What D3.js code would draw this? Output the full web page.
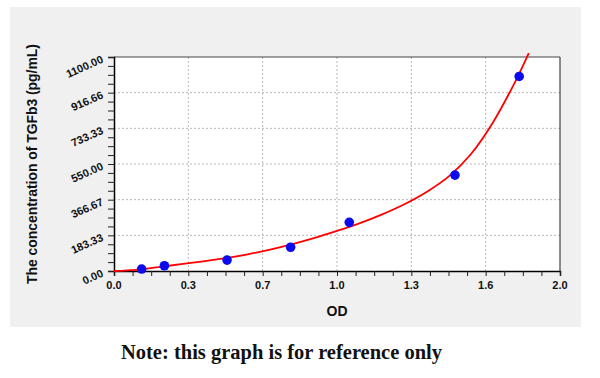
<!DOCTYPE html>
<html>
<head>
<meta charset="utf-8">
<script src="https://cdn.jsdelivr.net/npm/d3@7"></script>
<style>
  html, body { margin: 0; padding: 0; background: #ffffff; }
  svg { display: block; }
</style>
</head>
<body>
<svg id="chart" width="600" height="378"></svg>
<script>
// ---- data ----
const xTickValues = [0, 1/3, 2/3, 1, 4/3, 5/3, 2];
const xTickLabels = ["0.0", "0.3", "0.7", "1.0", "1.3", "1.6", "2.0"];
const yTickValues = [0, 183.33, 366.67, 550, 733.33, 916.66, 1100];
const yTickLabels = ["0.00", "183.33", "366.67", "550.00", "733.33", "916.66", "1100.00"];
// standard points (OD, concentration)
const pointOD   = [0.124, 0.226, 0.507, 0.792, 1.055, 1.529, 1.817];
const pointConc = [10, 27, 56, 122, 250, 493, 1000];
// fitted curve
const curveOD   = [0, 0.1, 0.2, 0.3, 0.4, 0.5, 0.6, 0.7, 0.8, 0.9, 1.0, 1.1, 1.2, 1.3, 1.4, 1.5, 1.6, 1.7, 1.8, 1.86];
const curveConc = [0, 6, 20, 35, 50, 66, 86, 110, 138, 170, 206, 245, 290, 342, 405, 485, 600, 765, 975, 1120];

// ---- layout ----
const svg = d3.select("#chart");
const L = 114, R = 560, T = 57, B = 271;

svg.append("rect").attr("x", 10).attr("y", 7).attr("width", 571).attr("height", 320)
  .attr("fill", "#f0f0f0");

svg.append("rect").attr("x", L).attr("y", T).attr("width", R - L).attr("height", B - T)
  .attr("fill", "#ffffff");

const x = d3.scaleLinear().domain([0, 2]).range([L, R]);
const y = d3.scaleLinear().domain([0, 1100]).range([B, T]);

// grid
const grid = svg.append("g");
grid.selectAll("line.vg").data(xTickValues.slice(1, -1)).enter().append("line")
  .attr("x1", d => x(d)).attr("x2", d => x(d)).attr("y1", T).attr("y2", B)
  .attr("stroke", "#b8b8b8").attr("stroke-width", 1).attr("stroke-dasharray", "2,2");
grid.selectAll("line.hg").data(yTickValues.slice(1, -1)).enter().append("line")
  .attr("x1", L).attr("x2", R).attr("y1", d => y(d)).attr("y2", d => y(d))
  .attr("stroke", "#b8b8b8").attr("stroke-width", 1).attr("stroke-dasharray", "2,2");

// frame top/right
svg.append("line").attr("x1", L).attr("x2", R).attr("y1", T).attr("y2", T)
  .attr("stroke", "#444").attr("stroke-width", 1.2);
svg.append("line").attr("x1", R).attr("x2", R).attr("y1", T).attr("y2", B)
  .attr("stroke", "#444").attr("stroke-width", 1.2);

// minor ticks
const xMinor = d3.range(0, 25).map(i => i * 2 / 24);
const yMinor = d3.range(0, 25).map(i => i * 1100 / 24);

const xAxis = d3.axisBottom(x).tickValues(xMinor).tickSize(5).tickFormat("");
const gx = svg.append("g").attr("transform", `translate(0,${B})`).call(xAxis);
gx.select(".domain").attr("stroke", "#000").attr("stroke-width", 1.5);
gx.selectAll(".tick line").attr("stroke", "#222").attr("stroke-width", 1);

const yAxis = d3.axisLeft(y).tickValues(yMinor).tickSize(6).tickFormat("");
const gy = svg.append("g").attr("transform", `translate(${L},0)`).call(yAxis);
gy.select(".domain").attr("stroke", "#000").attr("stroke-width", 1.5);
gy.selectAll(".tick line").attr("stroke", "#222").attr("stroke-width", 1);

// x tick labels
svg.append("g").selectAll("text").data(xTickValues).enter().append("text")
  .attr("x", d => x(d)).attr("y", 289)
  .attr("text-anchor", "middle")
  .attr("font-family", "Liberation Sans, Arial, sans-serif")
  .attr("font-weight", "bold").attr("font-size", 11).attr("fill", "#111")
  .text((d, i) => xTickLabels[i]);

// y tick labels (rotated)
svg.append("g").selectAll("text").data(yTickValues).enter().append("text")
  .attr("transform", d => `translate(104,${y(d) + 5}) rotate(-24)`)
  .attr("text-anchor", "end")
  .attr("font-family", "Liberation Sans, Arial, sans-serif")
  .attr("font-weight", "bold").attr("font-size", 11).attr("fill", "#111")
  .text((d, i) => yTickLabels[i]);

// curve
const curveData = curveOD.map((d, i) => [d, curveConc[i]]);
svg.append("path").datum(curveData)
  .attr("d", d3.line().x(d => x(d[0])).y(d => y(d[1])).curve(d3.curveCatmullRom))
  .attr("fill", "none").attr("stroke", "#ff0000").attr("stroke-width", 1.8);

// points
const pts = pointOD.map((d, i) => [d, pointConc[i]]);
svg.append("g").selectAll("circle").data(pts).enter().append("circle")
  .attr("cx", d => x(d[0])).attr("cy", d => y(d[1])).attr("r", 4.8)
  .attr("fill", "#0a0aee");

// axis titles
svg.append("text").attr("x", 337).attr("y", 316).attr("text-anchor", "middle")
  .attr("font-family", "Liberation Sans, Arial, sans-serif")
  .attr("font-weight", "bold").attr("font-size", 14).attr("fill", "#111")
  .text("OD");

svg.append("text").attr("transform", "translate(37,164) rotate(-90)")
  .attr("text-anchor", "middle")
  .attr("font-family", "Liberation Sans, Arial, sans-serif")
  .attr("font-weight", "bold").attr("font-size", 14).attr("fill", "#111")
  .attr("textLength", 240).attr("lengthAdjust", "spacing")
  .text("The concentration of TGFb3 (pg/mL)");

// note
svg.append("text").attr("x", 121).attr("y", 359)
  .attr("font-family", "Liberation Serif, Times New Roman, serif")
  .attr("font-weight", "bold").attr("font-size", 20).attr("fill", "#111")
  .attr("textLength", 321).attr("lengthAdjust", "spacingAndGlyphs")
  .text("Note: this graph is for reference only");
</script>
</body>
</html>
